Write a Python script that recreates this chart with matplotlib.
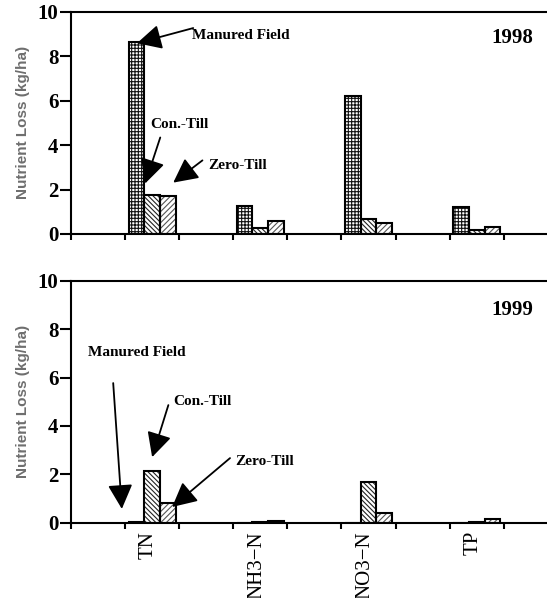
import numpy as np
import matplotlib
matplotlib.use('Agg')
import matplotlib.pyplot as plt
from matplotlib import rcParams

rcParams['hatch.linewidth'] = 0.8
rcParams['axes.linewidth'] = 1.5

# categories sit on every second slot, blanks in between (Excel style axis)
categories = ['TN', 'NH3\u2212N', 'NO3\u2212N', 'TP']
cat_pos = [1, 3, 5, 7]
series = ['Manured Field', 'Con.-Till', 'Zero-Till']

loss_1998 = {
    'Manured Field': [8.64, 1.25, 6.19, 1.23],
    'Con.-Till':     [1.76, 0.28, 0.66, 0.19],
    'Zero-Till':     [1.70, 0.59, 0.48, 0.33],
}
loss_1999 = {
    'Manured Field': [0.03, 0.00, 0.00, 0.00],
    'Con.-Till':     [2.14, 0.04, 1.68, 0.04],
    'Zero-Till':     [0.80, 0.09, 0.41, 0.15],
}
yticks = [0, 2, 4, 6, 8, 10]

hatches = {'Manured Field': '+++++', 'Con.-Till': '\\\\\\\\\\\\\\', 'Zero-Till': '//////'}
hatch_col = {'Manured Field': '#111111', 'Con.-Till': '#222222', 'Zero-Till': '#555555'}
bw = 0.29
offsets = [-bw, 0, bw]

fig = plt.figure(figsize=(5.47, 5.98), dpi=100)
ax1 = fig.add_axes([0.1298, 0.6087, 0.8702, 0.3719])
ax2 = fig.add_axes([0.1298, 0.1259, 0.8702, 0.4047])

serif = 'Liberation Serif'


def panel(ax, data, year, labels):
    x = np.array(cat_pos, dtype=float)
    for s, off in zip(series, offsets):
        vals = data[s]
        ax.bar(x + off, vals, bw, color='white', edgecolor=hatch_col[s],
               hatch=hatches[s], linewidth=0, zorder=2)
        ax.bar(x + off, vals, bw, fill=False, edgecolor='black',
               linewidth=1.5, zorder=3)
    ax.set_ylim(0, 10)
    ax.set_xlim(-0.5, 8.3)
    ax.set_yticks(yticks)
    ax.set_yticklabels([str(t) for t in yticks], fontsize=15,
                       fontweight='bold', family=serif)
    ax.tick_params(axis='y', direction='out', length=8, width=1.5, pad=1)
    ax.set_xticks(np.arange(-0.5, 8.0, 1.0))
    ax.set_xticklabels([])
    ax.tick_params(axis='x', which='major', direction='out', length=4, width=1.5)
    # label slots nudged a hair left, as in the original
    ax.set_xticks([p - 0.07 for p in cat_pos], minor=True)
    if labels:
        ax.set_xticklabels(categories, minor=True, rotation=90,
                           fontsize=15, family=serif)
    else:
        ax.set_xticklabels([], minor=True)
    ax.tick_params(axis='x', which='minor', length=0, pad=6)
    ax.spines['right'].set_visible(False)
    ax.set_ylabel('Nutrient Loss (kg/ha)', fontsize=11, fontweight='bold',
                  family='Liberation Sans', color='#6e6e6e')
    ax.yaxis.set_label_coords(-0.086, 0.5)
    ax.text(7.65, 8.8, year, fontsize=15, fontweight='bold', family=serif,
            ha='center', va='center')


panel(ax1, loss_1998, '1998', False)
panel(ax2, loss_1999, '1999', True)

aprops = dict(arrowstyle='-|>,head_length=0.75,head_width=0.38',
              mutation_scale=20, lw=1.3, color='black', shrinkA=0, shrinkB=0)
tfont = dict(fontsize=11, fontweight='bold', family=serif, va='center')

# 1998 annotations
ax1.text(1.74, 8.94, 'Manured Field', **tfont)
ax1.annotate('', xy=(0.72, 8.58), xytext=(1.76, 9.26), arrowprops=aprops)
ax1.text(0.96, 4.93, 'Con.-Till', **tfont)
ax1.annotate('', xy=(0.87, 2.27), xytext=(1.15, 4.34), arrowprops=aprops)
ax1.text(2.04, 3.08, 'Zero-Till', **tfont)
ax1.annotate('', xy=(1.39, 2.31), xytext=(1.93, 3.31), arrowprops=aprops)

# 1999 annotations
ax2.text(-0.19, 7.05, 'Manured Field', **tfont)
ax2.annotate('', xy=(0.44, 0.57), xytext=(0.28, 5.77), arrowprops=aprops)
ax2.text(1.39, 4.99, 'Con.-Till', **tfont)
ax2.annotate('', xy=(1.0, 2.71), xytext=(1.30, 4.86), arrowprops=aprops)
ax2.text(2.54, 2.51, 'Zero-Till', **tfont)
ax2.annotate('', xy=(1.37, 0.65), xytext=(2.44, 2.67), arrowprops=aprops)

fig.savefig('out.png', dpi=100)
